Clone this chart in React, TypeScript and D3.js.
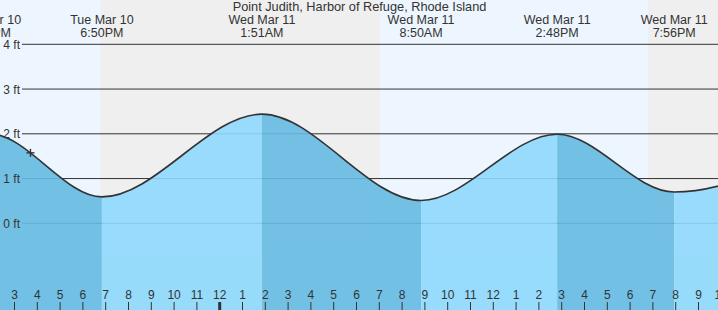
import React from "react";
import * as d3 from "d3";

// Hours measured from Tue Mar 10 00:00
const tideTimes = [7.6, 13.9, 18.833, 25.85, 32.833, 38.8, 43.933, 51.7];
const tideHeights = [0.45, 2.0, 0.59, 2.44, 0.51, 1.99, 0.7, 2.25];
const tideDays = ["Tue Mar 10", "Tue Mar 10", "Tue Mar 10", "Wed Mar 11", "Wed Mar 11", "Wed Mar 11", "Wed Mar 11", "Thu Mar 12"];
const tideClock = ["7:36AM", "1:54PM", "6:50PM", "1:51AM", "8:50AM", "2:48PM", "7:56PM", "2:42AM"];

// night periods (sunset -> sunrise)
const nightStarts = [18.77, 42.79];
const nightEnds = [31.03, 55];

const yTicks = [0, 1, 2, 3, 4];
const hourTicks = d3.range(14, 47);

const nowTime = 15.7;
const nowHeight = 1.575;

const title = "Point Judith, Harbor of Refuge, Rhode Island";

const W = 718;
const H = 310;

export default function App() {
  const x = d3.scaleLinear().domain([15, 46]).range([14.5, 14.5 + 31 * 22.8]);
  const y = d3.scaleLinear().domain([0, 4]).range([223.3, 44.3]);

  const pts = tideTimes.map((t, i) => [t, tideHeights[i]] as [number, number]);
  const area = d3
    .area<[number, number]>()
    .x((d) => x(d[0]))
    .y0(H)
    .y1((d) => y(d[1]))
    .curve(d3.curveMonotoneX);
  const line = d3
    .line<[number, number]>()
    .x((d) => x(d[0]))
    .y((d) => y(d[1]))
    .curve(d3.curveMonotoneX);

  const font = "'Liberation Sans', Arial, sans-serif";
  const textColor = "#333";

  const hourLabel = (h: number) => {
    const hh = h % 12;
    return String(hh === 0 ? 12 : hh);
  };

  return (
    <svg
      width={W}
      height={H}
      style={{ position: "fixed", left: 0, top: 0, display: "block" }}
      fontFamily={font}
    >
      <defs>
        <clipPath id="tideClip">
          <path d={area(pts) || ""} />
        </clipPath>
      </defs>
      <rect x={0} y={0} width={W} height={H} fill="#edf6fe" />
      {nightStarts.map((s, i) => (
        <rect
          key={"n" + i}
          x={x(s)}
          y={0}
          width={x(nightEnds[i]) - x(s)}
          height={H}
          fill="#efefef"
        />
      ))}
      {yTicks.map((v) => (
        <line key={"g" + v} x1={22} x2={W} y1={y(v)} y2={y(v)} stroke="#333" strokeWidth={1} />
      ))}
      <g clipPath="url(#tideClip)" opacity={0.9}>
        {tideTimes.slice(0, -1).map((t, i) => (
          <rect
            key={"b" + i}
            x={x(t)}
            y={0}
            width={x(tideTimes[i + 1]) - x(t)}
            height={H}
            fill={tideHeights[i] > tideHeights[i + 1] ? "#65bbe3" : "#8ed9fd"}
          />
        ))}
      </g>
      <path d={line(pts) || ""} fill="none" stroke="#333" strokeWidth={1.6} />
      <g stroke="#333" strokeWidth={1.4}>
        <line x1={x(nowTime) - 4} x2={x(nowTime) + 4} y1={y(nowHeight)} y2={y(nowHeight)} />
        <line x1={x(nowTime)} x2={x(nowTime)} y1={y(nowHeight) - 4} y2={y(nowHeight) + 4} />
      </g>
      {yTicks.map((v) => (
        <text key={"yl" + v} x={20} y={y(v) + 4.5} textAnchor="end" fontSize={12} fill={textColor}>
          {v} ft
        </text>
      ))}
      <text x={359.5} y={11} textAnchor="middle" fontSize={12.75} fill={textColor}>
        {title}
      </text>
      {tideTimes.map((t, i) =>
        x(t) > -60 && x(t) < W + 60 ? (
          <g key={"tl" + i}>
            <text x={x(t)} y={24} textAnchor="middle" fontSize={12.5} fill={textColor}>
              {tideDays[i]}
            </text>
            <text x={x(t)} y={36.5} textAnchor="middle" fontSize={12.5} fill={textColor}>
              {tideClock[i]}
            </text>
          </g>
        ) : null
      )}
      {hourTicks.map((h) => (
        <g key={"h" + h}>
          <line
            x1={x(h)}
            x2={x(h)}
            y1={302}
            y2={H}
            stroke="#333"
            strokeWidth={h % 24 === 0 ? 3 : 1}
          />
          <text x={x(h)} y={299} textAnchor="middle" fontSize={12} fill={textColor}>
            {hourLabel(h)}
          </text>
        </g>
      ))}
    </svg>
  );
}
